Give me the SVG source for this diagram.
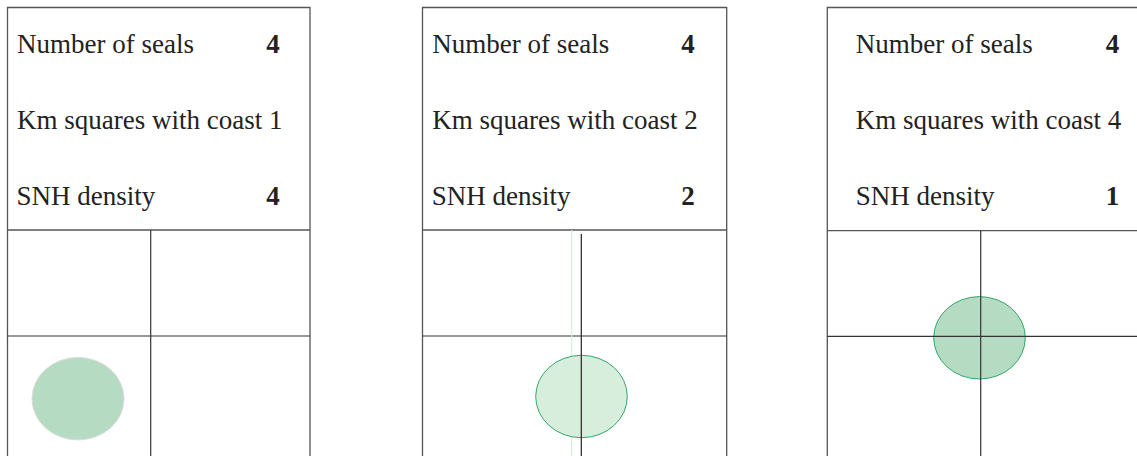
<svg xmlns="http://www.w3.org/2000/svg" width="1137" height="456" viewBox="0 0 1137 456">
<style>
.frame{fill:none;stroke:#555;stroke-width:1.3}
.grid{stroke:#333;stroke-width:1.2;fill:none}
.lbl{font-family:'Liberation Serif','Times New Roman',Times,serif;font-size:27px;fill:#222}
.num{font-family:'Liberation Serif','Times New Roman',Times,serif;font-size:27px;font-weight:bold;fill:#222;text-anchor:middle}
</style>
<rect width="1137" height="456" fill="#fff"/>
<g id="panel1">
<path class="frame" d="M7.5,460 V7.5 H310 V460"/>
<line class="frame" x1="7.5" y1="230" x2="310" y2="230"/>
<line class="grid" x1="7.5" y1="336" x2="310" y2="336"/>
<line class="grid" x1="150.7" y1="230" x2="150.7" y2="460"/>
<ellipse cx="78" cy="398.7" rx="46" ry="41.3" fill="#b5dcc2" stroke="#dcdcdc" stroke-width="1"/>
<text class="lbl" x="17" y="53">Number of seals</text>
<text class="num" x="273" y="53">4</text>
<text class="lbl" x="17" y="128.5">Km squares with coast 1</text>
<text class="lbl" x="16.5" y="205">SNH density</text>
<text class="num" x="273" y="205">4</text>
</g>
<g id="panel2">
<path class="frame" d="M422.5,460 V7.5 H726.7 V460"/>
<line class="frame" x1="422.5" y1="230" x2="726.7" y2="230"/>
<line class="grid" x1="422.5" y1="336" x2="726.7" y2="336"/>
<line x1="571.7" y1="230" x2="571.7" y2="460" stroke="#d6eedd" stroke-width="1.2"/>
<ellipse cx="581.5" cy="396.5" rx="45.8" ry="41.2" fill="#d8eedd" stroke="#2ea86b" stroke-width="1"/>
<line x1="581.3" y1="234" x2="581.3" y2="460" stroke="#222" stroke-width="1.2"/>
<text class="lbl" x="432.3" y="53">Number of seals</text>
<text class="num" x="688" y="53">4</text>
<text class="lbl" x="432.3" y="128.5">Km squares with coast 2</text>
<text class="lbl" x="431.8" y="205">SNH density</text>
<text class="num" x="688" y="205">2</text>
</g>
<g id="panel3">
<path class="frame" d="M827.3,460 V7.5 H1140"/>
<line class="frame" x1="827.3" y1="230.7" x2="1140" y2="230.7"/>
<ellipse cx="979.5" cy="337.8" rx="45.8" ry="41.2" fill="#b5dcc2" stroke="#2ea86b" stroke-width="1"/>
<line class="grid" x1="827.3" y1="336.3" x2="1140" y2="336.3"/>
<line class="grid" x1="980.7" y1="230.7" x2="980.7" y2="460"/>
<text class="lbl" x="855.7" y="53">Number of seals</text>
<text class="num" x="1112.5" y="53">4</text>
<text class="lbl" x="855.7" y="128.5">Km squares with coast 4</text>
<text class="lbl" x="855.7" y="205">SNH density</text>
<text class="num" x="1112.5" y="205">1</text>
</g>
</svg>
